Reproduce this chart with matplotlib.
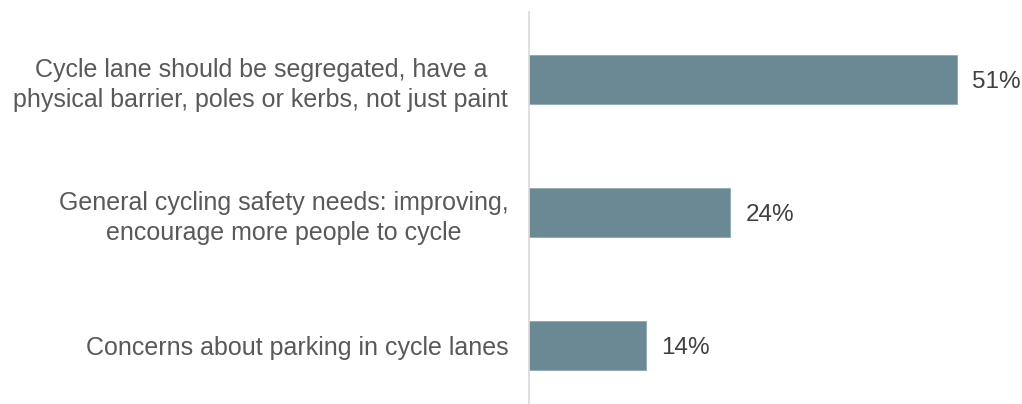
import matplotlib.pyplot as plt

categories = [
    "Cycle lane should be segregated, have a\nphysical barrier, poles or kerbs, not just paint",
    "General cycling safety needs: improving,\nencourage more people to cycle",
    "Concerns about parking in cycle lanes",
]
values = [51, 24, 14]

plt.rcParams['font.family'] = ['Liberation Sans', 'DejaVu Sans']

fig = plt.figure(figsize=(10.22, 4.04), dpi=100)
ax = fig.add_axes([529 / 1022, 0.0, 1 - 529 / 1022, 1 - 12 / 404])

px = 8.39  # pixels per percentage point
pos = list(range(len(categories)))
ax.barh(pos, values, height=0.368, color='#6b8994', edgecolor='#8fa8b1', linewidth=0.6)

ax.set_xlim(0, 493 / px)
ax.set_ylim(2.44, -0.5075)

for p, v in zip(pos, values):
    ax.text(v + 15 / px, p + 0.02, f"{v}%", va='center', ha='left', fontsize=17.5, color='#404040')

ax.set_yticks(pos)
ax.set_yticklabels(categories, fontsize=18, color='#595959', ha='right',
                   multialignment='center', linespacing=1.32)
ax.tick_params(axis='y', length=0, pad=15)
ax.set_xticks([])

for side in ['top', 'right', 'bottom']:
    ax.spines[side].set_visible(False)
ax.spines['left'].set_color('#d9d9d9')
ax.spines['left'].set_linewidth(1.2)

fig.savefig('out.png', dpi=100)
